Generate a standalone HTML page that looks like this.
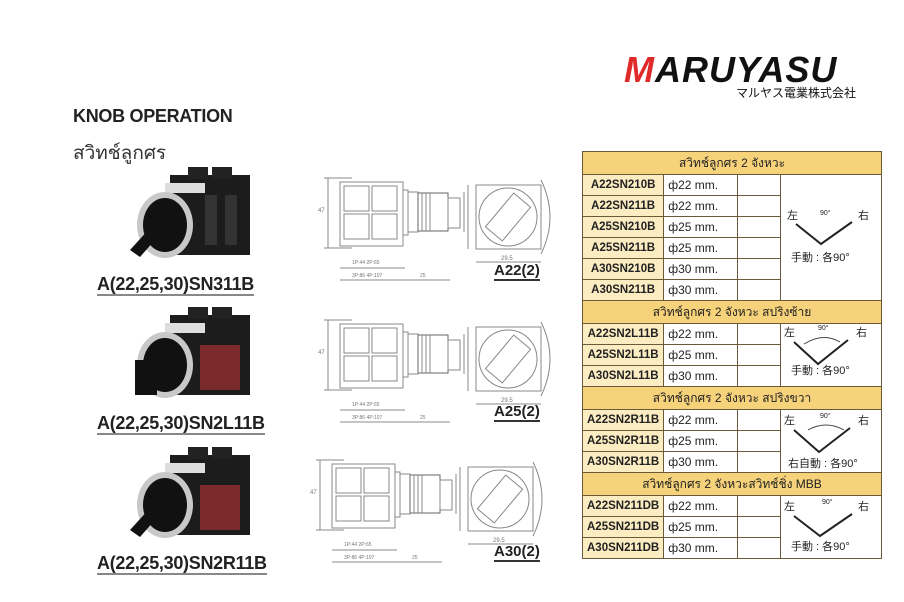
<!DOCTYPE html>
<html><head><meta charset="utf-8"><style>
*{margin:0;padding:0;box-sizing:border-box}
body{width:904px;height:602px;background:#fff;position:relative;overflow:hidden;font-family:"Liberation Sans","Noto Sans CJK JP",sans-serif}
.a{position:absolute}
.lbl{font-weight:bold;font-size:18px;color:#222;letter-spacing:-0.3px;border-bottom:2px solid #888;line-height:20px}
.dl{font-weight:bold;font-size:15px;color:#222;border-bottom:2px solid #333;line-height:17px}
table{border-collapse:collapse;position:absolute;left:582px;top:151px;width:300px;font-size:12px}
td{border:1px solid #6a5a3a;height:21px;padding:0 4px;color:#222;white-space:nowrap}
td.h{background:#f6d27a;text-align:center;height:23px;font-family:"Liberation Sans","Noto Sans CJK SC",sans-serif}
td.m{background:#fbecc2;font-weight:bold;width:78px;text-align:center;font-size:11.5px}
td.d{width:74px}
td.e{width:43px}
td.g{background:#fff;padding:0}
</style></head><body>

<div class="a" style="left:624px;top:50px;font-size:36px;font-weight:bold;font-style:italic;letter-spacing:1px;line-height:40px"><span style="color:#e02a2a">M</span><span style="color:#111">ARUYASU</span></div>
<div class="a" style="left:736px;top:84px;font-size:12px;color:#111">マルヤス電業株式会社</div>

<div class="a" style="left:73px;top:106px;font-size:18px;font-weight:bold;color:#222;letter-spacing:-0.3px">KNOB OPERATION</div>
<div class="a" style="left:73px;top:138px;font-size:19px;color:#333;font-family:'Liberation Sans','Noto Sans CJK SC',sans-serif">สวิทช์ลูกศร</div>

<svg class="a" style="left:110px;top:165px" width="150" height="100" viewBox="0 0 150 100">
<rect x="60" y="10" width="80" height="80" fill="#1c1c1c"/><rect x="78" y="2" width="20" height="12" fill="#222"/><rect x="102" y="2" width="20" height="12" fill="#222"/>
<rect x="95" y="30" width="12" height="50" fill="#333"/><rect x="115" y="30" width="12" height="50" fill="#333"/>
<rect x="55" y="18" width="40" height="10" fill="#ddd"/>
<ellipse cx="55" cy="60" rx="28" ry="33" fill="#c8c8c8"/><ellipse cx="55" cy="60" rx="22" ry="27" fill="#111"/>
<path d="M20 85 L50 52 L58 60 L30 92Z" fill="#111"/>
</svg>
<svg class="a" style="left:110px;top:305px" width="150" height="100" viewBox="0 0 150 100">
<rect x="60" y="10" width="80" height="80" fill="#1c1c1c"/><rect x="78" y="2" width="20" height="12" fill="#222"/><rect x="102" y="2" width="20" height="12" fill="#222"/>
<rect x="90" y="40" width="40" height="45" fill="#7a2a2a"/>
<rect x="55" y="18" width="40" height="10" fill="#ddd"/>
<ellipse cx="55" cy="60" rx="28" ry="33" fill="#c8c8c8"/><ellipse cx="55" cy="60" rx="22" ry="27" fill="#111"/>
<rect x="25" y="55" width="22" height="35" fill="#111"/>
</svg>
<svg class="a" style="left:110px;top:445px" width="150" height="100" viewBox="0 0 150 100">
<rect x="60" y="10" width="80" height="80" fill="#1c1c1c"/><rect x="78" y="2" width="20" height="12" fill="#222"/><rect x="102" y="2" width="20" height="12" fill="#222"/>
<rect x="90" y="40" width="40" height="45" fill="#7a2a2a"/>
<rect x="55" y="18" width="40" height="10" fill="#ddd"/>
<ellipse cx="55" cy="60" rx="28" ry="33" fill="#c8c8c8"/><ellipse cx="55" cy="60" rx="22" ry="27" fill="#111"/>
<path d="M20 85 L50 52 L58 60 L30 92Z" fill="#111"/>
</svg>

<div class="a lbl" style="left:97px;top:274px">A(22,25,30)SN311B</div>
<div class="a lbl" style="left:97px;top:413px">A(22,25,30)SN2L11B</div>
<div class="a lbl" style="left:97px;top:553px">A(22,25,30)SN2R11B</div>

<svg class="a" style="left:300px;top:150px" width="280" height="440" viewBox="0 0 280 440" fill="none" stroke="#888" stroke-width="1" font-size="6" font-family="Liberation Sans">
<defs>
<g id="dr">
<line x1="28" y1="28" x2="28" y2="98"/><line x1="24" y1="28" x2="52" y2="28"/><line x1="24" y1="98" x2="52" y2="98"/>
<rect x="40" y="32" width="63" height="64"/><rect x="44" y="36" width="25" height="25"/><rect x="44" y="64" width="25" height="25"/><rect x="72" y="36" width="25" height="25"/><rect x="72" y="64" width="25" height="25"/>
<rect x="103" y="40" width="5" height="45"/><rect x="108" y="42" width="10" height="40"/>
<rect x="118" y="43" width="30" height="38" stroke="#666"/><line x1="122" y1="43" x2="122" y2="81"/><line x1="126" y1="43" x2="126" y2="81"/><line x1="130" y1="43" x2="130" y2="81"/>
<rect x="148" y="48" width="12" height="30"/>
<line x1="164" y1="42" x2="164" y2="82"/>
<line x1="40" y1="118" x2="105" y2="118"/><line x1="40" y1="130" x2="105" y2="130"/><line x1="105" y1="130" x2="150" y2="130"/>
<text x="52" y="114" fill="#777" stroke="none" font-size="5">1P:44 2P:65</text><text x="52" y="127" fill="#777" stroke="none" font-size="5">3P:86 4P:107</text><text x="120" y="127" fill="#777" stroke="none" font-size="5">25</text>
<text x="18" y="62" fill="#777" stroke="none" font-size="6">47</text>
<rect x="176" y="35" width="65" height="64"/><circle cx="208" cy="67" r="29"/><rect x="197" y="45" width="22" height="44" transform="rotate(40 208 67)"/>
<path d="M241 30 Q259 67 241 104"/>
<line x1="176" y1="112" x2="241" y2="112"/><text x="201" y="110" fill="#777" stroke="none" font-size="6">29.5</text>
<line x1="168" y1="35" x2="168" y2="99"/>
</g>
</defs>
<use href="#dr" x="0" y="0"/>
<use href="#dr" x="0" y="142"/>
<use href="#dr" x="-8" y="282"/>
</svg>
<div class="a dl" style="left:494px;top:262px">A22(2)</div>
<div class="a dl" style="left:494px;top:403px">A25(2)</div>
<div class="a dl" style="left:494px;top:543px">A30(2)</div>

<table>
<tr><td class="h" colspan="4">สวิทช์ลูกศร 2 จังหวะ</td></tr>
<tr><td class="m">A22SN210B</td><td class="d">ф22 mm.</td><td class="e"></td><td class="g" rowspan="6"></td></tr>
<tr><td class="m">A22SN211B</td><td class="d">ф22 mm.</td><td class="e"></td></tr>
<tr><td class="m">A25SN210B</td><td class="d">ф25 mm.</td><td class="e"></td></tr>
<tr><td class="m">A25SN211B</td><td class="d">ф25 mm.</td><td class="e"></td></tr>
<tr><td class="m">A30SN210B</td><td class="d">ф30 mm.</td><td class="e"></td></tr>
<tr><td class="m">A30SN211B</td><td class="d">ф30 mm.</td><td class="e"></td></tr>
<tr><td class="h" colspan="4">สวิทช์ลูกศร 2 จังหวะ สปริงซ้าย</td></tr>
<tr><td class="m">A22SN2L11B</td><td class="d">ф22 mm.</td><td class="e"></td><td class="g" rowspan="3"></td></tr>
<tr><td class="m">A25SN2L11B</td><td class="d">ф25 mm.</td><td class="e"></td></tr>
<tr><td class="m">A30SN2L11B</td><td class="d">ф30 mm.</td><td class="e"></td></tr>
<tr><td class="h" colspan="4">สวิทช์ลูกศร 2 จังหวะ สปริงขวา</td></tr>
<tr><td class="m">A22SN2R11B</td><td class="d">ф22 mm.</td><td class="e"></td><td class="g" rowspan="3"></td></tr>
<tr><td class="m">A25SN2R11B</td><td class="d">ф25 mm.</td><td class="e"></td></tr>
<tr><td class="m">A30SN2R11B</td><td class="d">ф30 mm.</td><td class="e"></td></tr>
<tr><td class="h" colspan="4">สวิทช์ลูกศร 2 จังหวะสวิทช์ชิ่ง MBB</td></tr>
<tr><td class="m">A22SN211DB</td><td class="d">ф22 mm.</td><td class="e"></td><td class="g" rowspan="3"></td></tr>
<tr><td class="m">A25SN211DB</td><td class="d">ф25 mm.</td><td class="e"></td></tr>
<tr><td class="m">A30SN211DB</td><td class="d">ф30 mm.</td><td class="e"></td></tr>
</table>

<svg class="a" style="left:778px;top:200px" width="104" height="70" font-family="Liberation Sans,Noto Sans CJK JP" font-size="11" fill="#222">
<text x="9" y="19">左</text><text x="80" y="19">右</text><text x="42" y="15" font-size="7">90°</text>
<path d="M18 24 L43 44 L74 22" stroke="#222" stroke-width="2" fill="none"/>
<text x="13" y="61" font-size="11">手動 : 各90°</text></svg>
<svg class="a" style="left:778px;top:320px" width="104" height="66" font-family="Liberation Sans,Noto Sans CJK JP" font-size="11" fill="#222">
<text x="6" y="16">左</text><text x="78" y="16">右</text><text x="40" y="10" font-size="7">90°</text>
<path d="M16 22 L40 44 L70 20" stroke="#222" stroke-width="2" fill="none"/>
<path d="M26 24 Q45 12 62 22" stroke="#444" fill="none"/>
<text x="13" y="54">手動 : 各90°</text></svg>
<svg class="a" style="left:778px;top:408px" width="104" height="66" font-family="Liberation Sans,Noto Sans CJK JP" font-size="11" fill="#222">
<text x="6" y="16">左</text><text x="80" y="16">右</text><text x="42" y="10" font-size="7">90°</text>
<path d="M16 22 L41 44 L72 20" stroke="#222" stroke-width="2" fill="none"/>
<path d="M30 22 Q48 12 66 22" stroke="#444" fill="none"/>
<text x="10" y="59">右自動 : 各90°</text></svg>
<svg class="a" style="left:778px;top:494px" width="104" height="62" font-family="Liberation Sans,Noto Sans CJK JP" font-size="11" fill="#222">
<text x="6" y="16">左</text><text x="80" y="16">右</text><text x="44" y="10" font-size="7">90°</text>
<path d="M16 22 L42 42 L74 20" stroke="#222" stroke-width="2" fill="none"/>
<text x="13" y="56">手動 : 各90°</text></svg>
</body></html>
